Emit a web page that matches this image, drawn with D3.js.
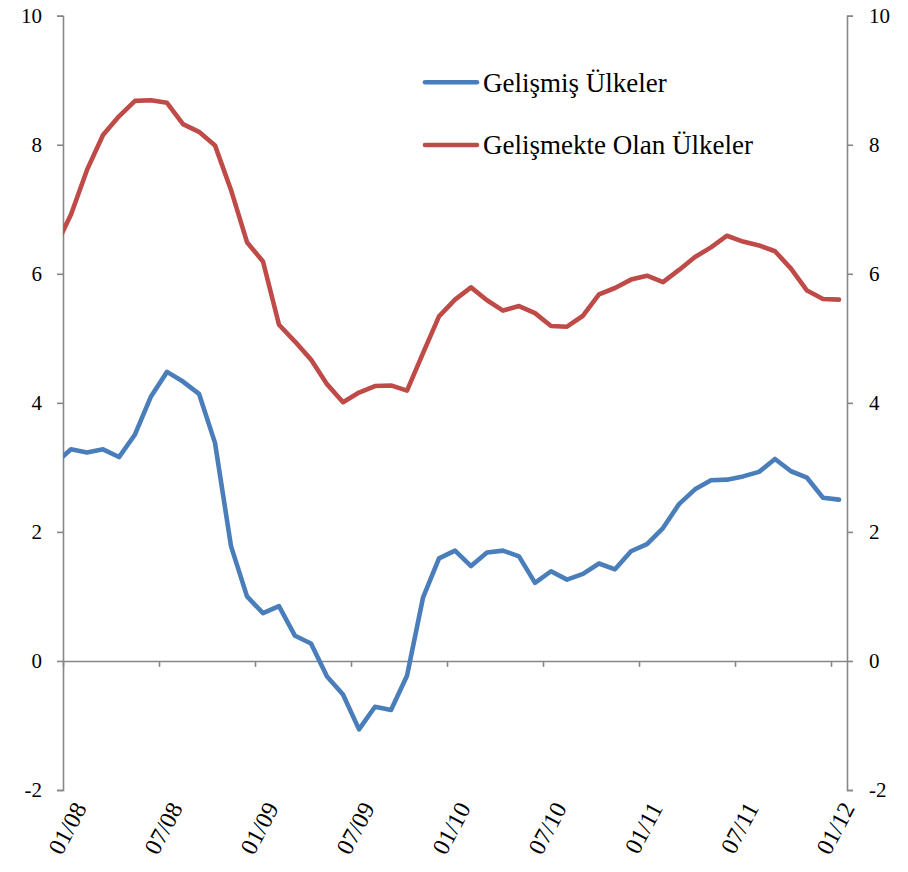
<!DOCTYPE html>
<html>
<head>
<meta charset="utf-8">
<script src="https://cdn.jsdelivr.net/npm/d3@7"></script>
<style>
  body { margin: 0; background: #fff; }
</style>
</head>
<body>
<div id="chart"></div>
<script>
///////////////
//   data    //
///////////////

// monthly, 12/07 .. 01/12 (first point sits left of the axis and is clipped)
var months = ["12/07",
  "01/08","02/08","03/08","04/08","05/08","06/08","07/08","08/08","09/08","10/08","11/08","12/08",
  "01/09","02/09","03/09","04/09","05/09","06/09","07/09","08/09","09/09","10/09","11/09","12/09",
  "01/10","02/10","03/10","04/10","05/10","06/10","07/10","08/10","09/10","10/10","11/10","12/10",
  "01/11","02/11","03/11","04/11","05/11","06/11","07/11","08/11","09/11","10/11","11/11","12/11",
  "01/12"];

var gelismis = [3.06,
  3.28, 3.23, 3.28, 3.16, 3.51, 4.10, 4.48, 4.33, 4.14, 3.38, 1.78, 1.00,
  0.74, 0.85, 0.39, 0.27, -0.24, -0.52, -1.06, -0.71, -0.76, -0.23, 0.98, 1.59,
  1.71, 1.47, 1.68, 1.71, 1.62, 1.21, 1.39, 1.26, 1.35, 1.51, 1.42, 1.70,
  1.81, 2.06, 2.43, 2.66, 2.80, 2.81, 2.86, 2.93, 3.13, 2.94, 2.84, 2.53,
  2.50];

var gelismekte = [6.40,
  6.92, 7.61, 8.15, 8.44, 8.68, 8.69, 8.65, 8.32, 8.20, 7.99, 7.30, 6.49,
  6.19, 5.21, 4.95, 4.67, 4.29, 4.01, 4.16, 4.26, 4.27, 4.19, 4.77, 5.34,
  5.60, 5.79, 5.59, 5.43, 5.50, 5.39, 5.19, 5.18, 5.35, 5.68, 5.78, 5.91,
  5.97, 5.87, 6.06, 6.26, 6.41, 6.59, 6.50, 6.44, 6.35, 6.08, 5.74, 5.61,
  5.60];

var tickLabels = ["01/08","07/08","01/09","07/09","01/10","07/10","01/11","07/11","01/12"];
var yTicks = [-2, 0, 2, 4, 6, 8, 10];

var seriesNames = ["Gelişmiş Ülkeler", "Gelişmekte Olan Ülkeler"];

///////////////
// constants //
///////////////

const chartWidth = 908;
const chartHeight = 872;

const plotLeft = 63;
const plotRight = 847;
const plotTop = 15.7;
const plotBottom = 790;

const blue = "#4a7ebb";
const red = "#be4b48";
const axisColor = "#878787";
const serif = "'Liberation Serif', 'Times New Roman', serif";

// month index 1 = start of 01/08, 50 = end of 01/12
var xScale = d3.scaleLinear()
             .domain([1, months.length])
             .range([plotLeft, plotRight]);

var yScale = d3.scaleLinear()
             .domain([-2, 10])
             .range([plotBottom, plotTop]);

////////////////
// draw image //
////////////////

var svg = d3.select("#chart").append("svg")
            .attr("width", chartWidth)
            .attr("height", chartHeight);

svg.append("rect")
    .attr("width", "100%")
    .attr("height", "100%")
    .attr("fill", "#ffffff");

svg.append("clipPath")
    .attr("id", "plotclip")
  .append("rect")
    .attr("x", plotLeft)
    .attr("y", 0)
    .attr("width", plotRight - plotLeft)
    .attr("height", chartHeight);

drawAxes();
drawSeries(gelismis, blue);
drawSeries(gelismekte, red);
drawLegend();

///////////////
// functions //
///////////////

function drawAxes() {
  // left value axis
  var left = svg.append("g")
      .attr("transform", "translate(" + plotLeft + ",0)")
      .call(d3.axisLeft(yScale).tickValues(yTicks).tickSize(6).tickPadding(15)
            .tickFormat(function(d) { return String(d); }));

  // right value axis
  var right = svg.append("g")
      .attr("transform", "translate(" + plotRight + ",0)")
      .call(d3.axisRight(yScale).tickValues(yTicks).tickSize(6).tickPadding(16)
            .tickFormat(function(d) { return String(d); }));

  [left, right].forEach(function(g) {
    g.select(".domain").attr("stroke", axisColor).attr("stroke-width", 1.6);
    g.selectAll(".tick line").attr("stroke", axisColor).attr("stroke-width", 1.6);
    g.selectAll(".tick text")
      .attr("fill", "#000")
      .style("font-family", serif)
      .style("font-size", "21px");
  });

  // category axis line at zero, ticks every six months
  var zero = svg.append("g")
      .attr("transform", "translate(0," + yScale(0) + ")")
      .call(d3.axisBottom(xScale)
            .tickValues(tickLabels.map(function(t) { return months.indexOf(t); }))
            .tickSize(6).tickSizeOuter(0)
            .tickFormat(""));
  zero.select(".domain").attr("stroke", axisColor).attr("stroke-width", 1.6);
  zero.selectAll(".tick line").attr("stroke", axisColor).attr("stroke-width", 1.6);

  // rotated month labels below the plot
  svg.append("g")
      .attr("class", "xlabels")
      .selectAll("text")
      .data(tickLabels)
      .enter().append("text")
      .attr("transform", function(d) {
        return "translate(" + (xScale(months.indexOf(d)) + 17) + "," + (plotBottom + 14) + ") rotate(-62)";
      })
      .attr("text-anchor", "end")
      .attr("dy", "0.35em")
      .style("font-family", serif)
      .style("font-size", "24px")
      .attr("fill", "#000")
      .text(function(d) { return d; });
}

function drawSeries(values, color) {
  var line = d3.line()
      .x(function(d, i) { return xScale(i + 0.5); })
      .y(function(d) { return yScale(d); });

  svg.append("path")
      .datum(values)
      .attr("clip-path", "url(#plotclip)")
      .attr("d", line)
      .attr("fill", "none")
      .attr("stroke", color)
      .attr("stroke-width", 4.6)
      .attr("stroke-linecap", "round")
      .style("stroke-linejoin", "round");
}

function drawLegend() {
  var colors = [blue, red];
  var rows = [82.3, 145];

  var legend = svg.append("g").attr("class", "legend");

  seriesNames.forEach(function(name, i) {
    legend.append("line")
        .attr("x1", 425)
        .attr("x2", 477)
        .attr("y1", rows[i])
        .attr("y2", rows[i])
        .attr("stroke", colors[i])
        .attr("stroke-width", 4.6)
        .attr("stroke-linecap", "round");

    legend.append("text")
        .attr("x", 483)
        .attr("y", rows[i])
        .attr("dy", "0.35em")
        .style("font-family", serif)
        .style("font-size", "27px")
        .attr("fill", "#000")
        .text(name);
  });
}
</script>
</body>
</html>
